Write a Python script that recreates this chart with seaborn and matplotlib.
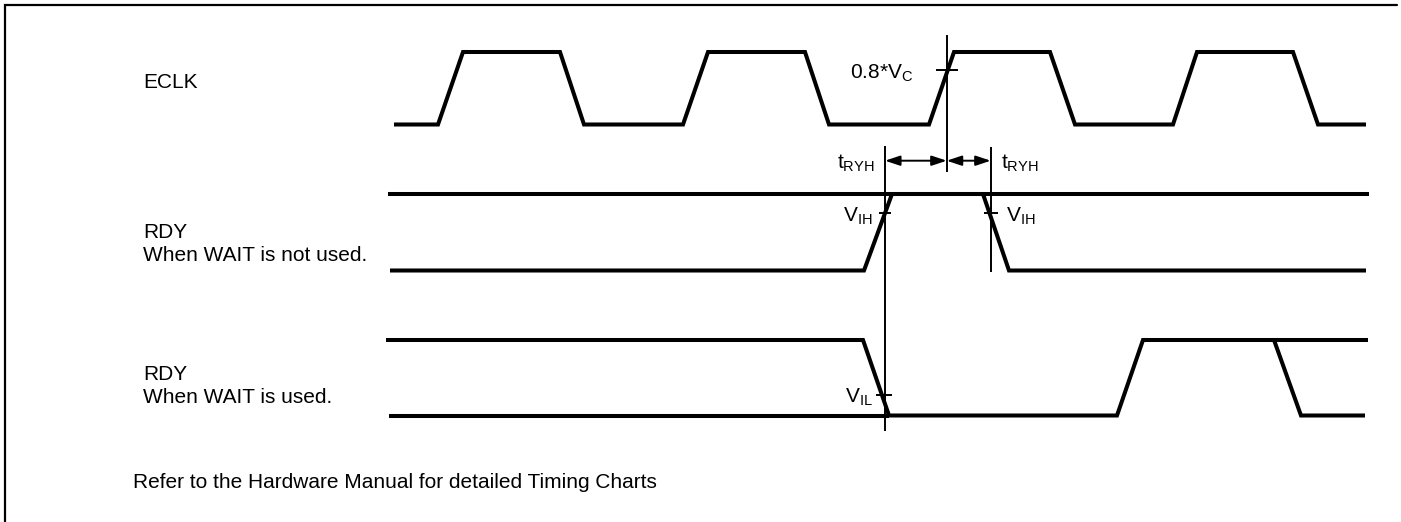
import numpy as np
import pandas as pd
import matplotlib
matplotlib.use("Agg")
import matplotlib.pyplot as plt
import seaborn as sns

# ---------------- data (time axis in diagram units, level 0 = low, 1 = high) ----------------
eclk_t = [394, 438, 463, 560, 584, 683, 708, 805, 829, 929, 954, 1050, 1075, 1173, 1197, 1293, 1318, 1366]
eclk_lv = [0, 0, 1, 1, 0, 0, 1, 1, 0, 0, 1, 1, 0, 0, 1, 1, 0, 0]

rdy_nw_t = [390, 864, 892, 983, 1009, 1366]          # RDY, WAIT not used
rdy_nw_lv = [0, 0, 1, 1, 0, 0]
rdy_nw_hi_t = [388, 1369]                             # other state drawn (don't care)
rdy_nw_hi_lv = [1, 1]

rdy_w_t = [386, 863, 889, 1117, 1143, 1368]          # RDY, WAIT used
rdy_w_lv = [1, 1, 0, 0, 1, 1]
rdy_w_lo_t = [389, 889]
rdy_w_lo_lv = [0, 0]
rdy_w_tail_t = [1274, 1301, 1365]
rdy_w_tail_lv = [1, 0, 0]

signal_labels = ["ECLK", "RDY\nWhen WAIT is not used.", "RDY\nWhen WAIT is used."]

t_clk_ref = 946.7      # ECLK crosses 0.8*Vc
t_ryh_start = 885.0    # RDY crosses VIH (rise) / VIL (fall)
t_ryh_end = 990.7      # RDY crosses VIH (fall)
lv_clk_thr = 0.75
lv_vih = 0.755
lv_vil = 0.27
clk_thr_label = "0.8*V$_\\mathregular{C}$"
vih_label = "V$_\\mathregular{IH}$"
vil_label = "V$_\\mathregular{IL}$"
timing_label = "t$_\\mathregular{RYH}$"
note = "Refer to the Hardware Manual for detailed Timing Charts"

# ---------------- style ----------------
sns.set_theme(style="white")
plt.rcParams["font.family"] = ["Liberation Sans", "DejaVu Sans"]
plt.rcParams["mathtext.fontset"] = "custom"
plt.rcParams["mathtext.rm"] = "Liberation Sans"
plt.rcParams["mathtext.it"] = "Liberation Sans"
plt.rcParams["mathtext.bf"] = "Liberation Sans"
plt.rcParams["text.color"] = "black"

W, H = 1401, 522
fig = plt.figure(figsize=(W / 100, H / 100), dpi=100)
ax = fig.add_axes([0, 0, 1, 1])
ax.set_xlim(0, W)
ax.set_ylim(H, 0)
ax.axis("off")

# layout: each row's low-level position and amplitude
row_low = [124.5, 270.5, 415.5]
row_amp = [72.5, 76.5, 75.5]


def ypos(row, lv):
    return row_low[row] - np.asarray(lv, dtype=float) * row_amp[row]


segments = [
    (0, eclk_t, eclk_lv),
    (1, rdy_nw_t, rdy_nw_lv),
    (1, rdy_nw_hi_t, rdy_nw_hi_lv),
    (2, rdy_w_t, rdy_w_lv),
    (2, rdy_w_lo_t, rdy_w_lo_lv),
    (2, rdy_w_tail_t, rdy_w_tail_lv),
]
frames = []
for i, (row, t, lv) in enumerate(segments):
    frames.append(pd.DataFrame({"t": t, "y": ypos(row, lv), "seg": i}))
df = pd.concat(frames, ignore_index=True)

sns.lineplot(data=df, x="t", y="y", units="seg", estimator=None, sort=False,
             color="black", linewidth=2.9, ax=ax, legend=False)
for ln in ax.lines:
    ln.set_solid_joinstyle("miter")
    ln.set_solid_capstyle("butt")
ax.set_xlim(0, W)
ax.set_ylim(H, 0)
ax.axis("off")

thin = 1.4
arrow_y = 160.7

# reference vertical lines
ax.vlines(t_clk_ref, ypos(0, 1) - 17, arrow_y + 11, color="black", lw=thin)
ax.vlines(t_ryh_start, arrow_y - 15, ypos(2, 0) + 15, color="black", lw=thin)
ax.vlines(t_ryh_end, arrow_y - 14, ypos(1, 0) + 1.5, color="black", lw=thin)

# threshold ticks
y_clk = float(ypos(0, lv_clk_thr))
y_vih = float(ypos(1, lv_vih))
y_vil = float(ypos(2, lv_vil))
ax.hlines(y_clk, t_clk_ref - 11, t_clk_ref + 11, color="black", lw=thin)
ax.hlines(y_vih, t_ryh_start - 6, t_ryh_start + 6, color="black", lw=thin)
ax.hlines(y_vih, t_ryh_end - 7, t_ryh_end + 7, color="black", lw=thin)
ax.hlines(y_vil, t_ryh_start - 9, t_ryh_start + 7, color="black", lw=thin)

# timing arrows
astyle = dict(arrowstyle="<|-|>,head_length=0.6,head_width=0.2", color="black",
              lw=thin, shrinkA=0, shrinkB=0, mutation_scale=15)
ax.annotate("", xy=(t_ryh_start, arrow_y), xytext=(t_clk_ref, arrow_y), arrowprops=astyle)
ax.annotate("", xy=(t_clk_ref, arrow_y), xytext=(t_ryh_end, arrow_y), arrowprops=astyle)

fs = 15
# annotation texts
ax.text(t_clk_ref - 33, y_clk + 3, clk_thr_label, fontsize=fs, ha="right", va="center", color="black")
ax.text(t_ryh_start - 10, arrow_y + 3, timing_label, fontsize=fs, ha="right", va="center", color="black")
ax.text(t_ryh_end + 10, arrow_y + 3, timing_label, fontsize=fs, ha="left", va="center", color="black")
ax.text(t_ryh_start - 12, y_vih + 4, vih_label, fontsize=fs, ha="right", va="center", color="black")
ax.text(t_ryh_end + 15, y_vih + 4, vih_label, fontsize=fs, ha="left", va="center", color="black")
ax.text(t_ryh_start - 12, y_vil + 2, vil_label, fontsize=fs, ha="right", va="center", color="black")

# signal labels
label_y = [83, 244, 386]
for lab, yy in zip(signal_labels, label_y):
    ax.text(143, yy, lab, fontsize=fs, ha="left", va="center", linespacing=1.33, color="black")

ax.text(133, 483, note, fontsize=fs, ha="left", va="center", color="black")

# frame (top and left edges visible)
ax.plot([5, 5, 1397], [H + 5, 5, 5], color="black", lw=1.6, clip_on=False,
        solid_joinstyle="miter")

fig.savefig("out.png", dpi=100)
